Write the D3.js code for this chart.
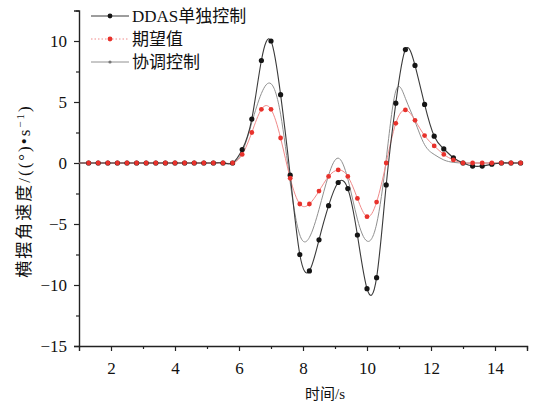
<!DOCTYPE html>
<html>
<head>
<meta charset="utf-8">
<script src="https://cdn.jsdelivr.net/npm/d3@7"></script>
<style>
  html, body { margin: 0; padding: 0; background: #fff; }
  svg { display: block; }
  svg text { font-family: "Liberation Serif", "Times New Roman", "DejaVu Serif", "Noto Sans CJK SC", serif; }
</style>
</head>
<body>
<svg id="chart" width="548" height="406"></svg>
<script>
// Sample times (s), one every 0.3 s
const times = d3.range(0, 47).map(k => +(1 + 0.3 * k).toFixed(1));

// Yaw rate, DDAS alone
const ddas = [
  0, 0, 0, 0, 0, 0, 0, 0, 0, 0, 0, 0, 0, 0, 0, 0, 0,
  1.1, 3.6, 8.4, 10.0, 5.6, -1.0, -7.5, -8.85, -6.3, -3.5, -1.6, -2.1, -5.9, -10.3, -9.4,
  -1.8, 4.9, 9.3, 8.0, 4.8, 2.2, 1.15, 0.43, 0, -0.25, -0.25, -0.1, 0, 0, 0
];
// Desired yaw rate
const desired = [
  0, 0, 0, 0, 0, 0, 0, 0, 0, 0, 0, 0, 0, 0, 0, 0, 0,
  0.7, 2.5, 4.4, 4.4, 2.05, -1.25, -3.36, -3.36, -2.3, -1.1, -0.57, -1.1, -2.9, -4.4, -3.2,
  0, 3.25, 4.35, 3.5, 2.25, 1.4, 0.7, 0.25, 0, 0, 0, 0, 0, 0, 0
];
// Yaw rate, coordinated control
const coord = [
  0, 0, 0, 0, 0, 0, 0, 0, 0, 0, 0, 0, 0, 0, 0, 0, 0,
  0.9, 3.3, 5.7, 6.5, 4.0, -1.6, -5.9, -6.1, -3.8, -1.0, 0.4, -1.3, -4.6, -6.4, -5.0,
  0.3, 5.9, 5.3, 3.4, 1.5, 0.7, 0.25, 0.05, 0, 0, 0, 0, 0, 0, 0
];

const xTicks = [2, 4, 6, 8, 10, 12, 14];
const yTicks = [-15, -10, -5, 0, 5, 10];
const legendNames = ["DDAS单独控制", "期望值", "协调控制"];

const svg = d3.select("#chart");
const x = d3.scaleLinear().domain([1, 15]).range([79, 527]);
const y = d3.scaleLinear().domain([-15, 12.5]).range([346, 10.5]);

const fontStack = "'Liberation Serif', 'Times New Roman', 'DejaVu Serif', 'Noto Sans CJK SC', serif";

// Axes with major and minor ticks
const xMinor = d3.range(3, 16, 2);
const yMinor = d3.range(-12.5, 13, 5);

const gx = svg.append("g").attr("transform", "translate(0,346)");
gx.call(d3.axisBottom(x).tickValues(xTicks).tickSize(5).tickPadding(11).tickFormat(d3.format("d")));
gx.append("g").call(d3.axisBottom(x).tickValues(xMinor).tickSize(3).tickFormat(""))
  .select(".domain").remove();

const gy = svg.append("g").attr("transform", "translate(79,0)");
gy.call(d3.axisLeft(y).tickValues(yTicks).tickSize(5).tickPadding(7)
  .tickFormat(d => d < 0 ? "\u2212" + Math.abs(d) : d));
gy.append("g").call(d3.axisLeft(y).tickValues(yMinor).tickSize(3).tickFormat(""))
  .select(".domain").remove();

svg.selectAll("g").attr("font-family", null);
svg.selectAll(".domain").attr("stroke", "#222").attr("stroke-width", 1.4);
svg.selectAll(".tick line").attr("stroke", "#222").attr("stroke-width", 1.2);
svg.selectAll(".tick text").style("font-family", fontStack).attr("font-size", 17).attr("fill", "#111");

// Curves
const line = d3.line().x(d => x(d[0])).y(d => y(d[1])).curve(d3.curveNatural);
const pairs = arr => times.map((t, i) => [t, arr[i]]);

svg.append("path").datum(pairs(coord)).attr("d", line)
  .attr("fill", "none").attr("stroke", "#909090").attr("stroke-width", 1);
svg.append("path").datum(pairs(desired)).attr("d", line)
  .attr("fill", "none").attr("stroke", "#f08a8a").attr("stroke-width", 1);
svg.append("path").datum(pairs(ddas)).attr("d", line)
  .attr("fill", "none").attr("stroke", "#3a3a3a").attr("stroke-width", 1.1);

// Markers
svg.append("g").selectAll("circle").data(pairs(ddas).slice(1)).join("circle")
  .attr("cx", d => x(d[0])).attr("cy", d => y(d[1])).attr("r", 2.6).attr("fill", "#151515");
svg.append("g").selectAll("circle").data(pairs(desired).slice(1)).join("circle")
  .attr("cx", d => x(d[0])).attr("cy", d => y(d[1])).attr("r", 2.4).attr("fill", "#e8322c");

// Legend
const legendStyles = [
  { stroke: "#3a3a3a", dash: null, marker: "#151515", r: 2.4 },
  { stroke: "#f08a8a", dash: "1.5,2", marker: "#e8322c", r: 2.4 },
  { stroke: "#909090", dash: null, marker: "#777", r: 1.6 }
];
const lg = svg.append("g");
legendNames.forEach((name, i) => {
  const yy = 16 + i * 23;
  const s = legendStyles[i];
  lg.append("line").attr("x1", 91).attr("x2", 129).attr("y1", yy).attr("y2", yy)
    .attr("stroke", s.stroke).attr("stroke-width", 1).attr("stroke-dasharray", s.dash);
  lg.append("circle").attr("cx", 110).attr("cy", yy).attr("r", s.r).attr("fill", s.marker);
  lg.append("text").attr("x", 132).attr("y", yy + 6).text(name)
    .style("font-family", fontStack).attr("font-size", 17).attr("fill", "#111");
});

// Axis titles
svg.append("text").attr("x", 325).attr("y", 399).attr("text-anchor", "middle")
  .style("font-family", fontStack).attr("font-size", 15).attr("fill", "#111").text("时间/s");

const yt = svg.append("text").attr("transform", "translate(30,191) rotate(-90)")
  .attr("text-anchor", "middle").style("font-family", fontStack)
  .attr("font-size", 17).attr("letter-spacing", 2).attr("fill", "#111");
yt.append("tspan").text("横摆角速度/((°)•s");
yt.append("tspan").attr("dy", -6).attr("font-size", 11).text("−1");
yt.append("tspan").attr("dy", 6).text(")");
</script>
</body>
</html>
